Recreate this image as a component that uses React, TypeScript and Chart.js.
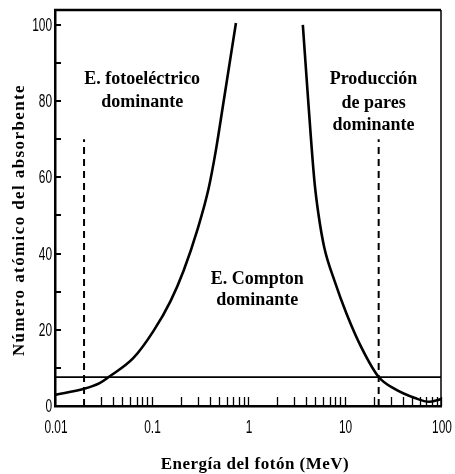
import { useEffect, useRef } from "react";
import { Chart, registerables } from "chart.js";

Chart.register(...registerables);

// Tick labels
const xTickLabels = [0.01, 0.1, 1, 10, 100];
const yTickLabels = [0, 20, 40, 60, 80, 100];
const yMinorTicks = [10, 30, 50, 70, 90];
const xMinorTicks = [
  0.03, 0.04, 0.05, 0.06, 0.07, 0.08, 0.09,
  0.2, 0.3, 0.4, 0.5, 0.6, 0.7, 0.8, 0.9,
  2, 3, 4, 5, 6, 7, 8, 9,
  20, 30, 40, 50, 60, 70, 80, 90,
];

// Photoelectric / Compton boundary (left curve)
const photoE = [0.01, 0.02, 0.029, 0.036, 0.065, 0.105, 0.158, 0.215, 0.301, 0.39, 0.464, 0.562, 0.75];
const photoZ = [2.9, 4.5, 6.0, 7.6, 12.6, 19.7, 27.6, 35.5, 46.5, 57, 67, 80.3, 100.5];

// Compton / pair production boundary (right curve)
const pairE = [3.7, 4.2, 4.87, 5.36, 6.17, 7.87, 10.5, 15.0, 22.6, 33.1, 53.7, 75, 100];
const pairZ = [100, 80.3, 59.2, 50.5, 41.6, 32.9, 24.2, 15.3, 7.6, 4.5, 2.1, 1.1, 1.8];

// Horizontal reference line and dominance boundaries
const refZ = 7.6;
const refE = [0.01, 100];
const photoBoundaryE = 0.02;
const pairBoundaryE = 22.6;
const boundaryZ = [0, 70];

const tickFont = "18px 'Liberation Sans', Arial, sans-serif";
const annFont = "bold 18px 'Liberation Serif', 'Times New Roman', serif";
const titleFont = "bold 17px 'Liberation Serif', 'Times New Roman', serif";

const overlay = {
  id: "overlay",
  afterDraw(chart: any) {
    const ctx = chart.ctx;
    const xs = chart.scales.x;
    const ys = chart.scales.y;
    const { left, right, top, bottom } = chart.chartArea;
    ctx.save();
    ctx.strokeStyle = "#000";
    ctx.fillStyle = "#000";
    // top & right border
    ctx.lineWidth = 2.5;
    ctx.beginPath();
    ctx.moveTo(left - 1, top);
    ctx.lineTo(right, top);
    ctx.stroke();
    ctx.lineWidth = 1.5;
    ctx.beginPath();
    ctx.moveTo(right, top);
    ctx.lineTo(right, bottom);
    ctx.stroke();
    // x ticks inward
    ctx.lineWidth = 1.3;
    ctx.beginPath();
    [...xMinorTicks, ...xTickLabels].forEach((v) => {
      const px = Math.round(xs.getPixelForValue(v)) + 0.5;
      ctx.moveTo(px, bottom);
      ctx.lineTo(px, bottom - 9);
    });
    ctx.stroke();
    // y ticks inward
    ctx.lineWidth = 2;
    ctx.beginPath();
    [...yMinorTicks, ...yTickLabels].forEach((v) => {
      const py = Math.round(ys.getPixelForValue(v));
      ctx.moveTo(left, py);
      ctx.lineTo(left + 6, py);
    });
    ctx.stroke();

    // condensed tick labels
    ctx.font = tickFont;
    ctx.textBaseline = "middle";
    const sx = 0.66;
    xTickLabels.forEach((v) => {
      const px = xs.getPixelForValue(v);
      ctx.save();
      ctx.translate(px + 1, bottom + 22);
      ctx.scale(sx, 1);
      ctx.textAlign = "center";
      ctx.fillText(String(v), 0, 0);
      ctx.restore();
    });
    yTickLabels.forEach((v) => {
      const py = ys.getPixelForValue(v);
      ctx.save();
      ctx.translate(left - 3, py + 1);
      ctx.scale(sx, 1);
      ctx.textAlign = "right";
      ctx.fillText(String(v), 0, 0);
      ctx.restore();
    });

    // annotations
    ctx.font = annFont;
    ctx.textAlign = "center";
    ctx.textBaseline = "middle";
    const put = (t: string, e: number, z: number) =>
      ctx.fillText(t, xs.getPixelForValue(e), ys.getPixelForValue(z));
    put("E. fotoeléctrico", 0.08, 85.6);
    put("dominante", 0.08, 79.8);
    put("Producción", 20, 85.6);
    put("de pares", 20, 79.5);
    put("dominante", 20, 73.7);
    put("E. Compton", 1.25, 33.3);
    put("dominante", 1.25, 27.6);

    // axis titles
    ctx.font = titleFont;
    (ctx as any).letterSpacing = "0.5px";
    ctx.fillText("Energía del fotón (MeV)", 255, 465);
    (ctx as any).letterSpacing = "1.4px";
    ctx.translate(20, 220);
    ctx.rotate(-Math.PI / 2);
    ctx.fillText("Número atómico del absorbente", 0, 0);
    ctx.restore();
  },
};

export default function App() {
  const ref = useRef<HTMLCanvasElement | null>(null);
  useEffect(() => {
    if (!ref.current) return;
    const line = (xsArr: number[], ysArr: number[]) =>
      xsArr.map((x, i) => ({ x, y: ysArr[i] }));
    const curve = (d: any) => ({
      data: d,
      borderColor: "#000",
      borderWidth: 2.6,
      pointRadius: 0,
      cubicInterpolationMode: "monotone",
      fill: false,
    });
    const chart = new Chart(ref.current, {
      type: "line",
      data: {
        datasets: [
          curve(line(photoE, photoZ)),
          curve(line(pairE, pairZ)),
          {
            data: line(refE, [refZ, refZ]),
            borderColor: "#000",
            borderWidth: 1.8,
            pointRadius: 0,
          },
          {
            data: line([photoBoundaryE, photoBoundaryE], boundaryZ),
            borderColor: "#000",
            borderWidth: 2,
            borderDash: [7, 5],
            pointRadius: 0,
          },
          {
            data: line([pairBoundaryE, pairBoundaryE], boundaryZ),
            borderColor: "#000",
            borderWidth: 2,
            borderDash: [7, 5],
            pointRadius: 0,
          },
        ],
      },
      options: {
        responsive: false,
        animation: false,
        layout: { padding: { left: 0, right: 14, top: 10, bottom: 0 } },
        plugins: { legend: { display: false }, tooltip: { enabled: false } },
        scales: {
          x: {
            type: "logarithmic",
            min: 0.01,
            max: 100,
            afterBuildTicks: (s: any) => {
              s.ticks = xTickLabels.map((v) => ({ value: v }));
            },
            afterFit: (s: any) => {
              s.height = 68;
            },
            ticks: { display: false },
            grid: { display: false, drawTicks: false },
            border: { display: true, color: "#000", width: 2.5 },
          },
          y: {
            type: "linear",
            min: 0,
            max: 103.9,
            afterBuildTicks: (s: any) => {
              s.ticks = yTickLabels.map((v) => ({ value: v }));
            },
            afterFit: (s: any) => {
              s.width = 55;
            },
            ticks: { display: false },
            grid: { display: false, drawTicks: false },
            border: { display: true, color: "#000", width: 2.5 },
          },
        },
      },
      plugins: [overlay],
    } as any);
    return () => chart.destroy();
  }, []);
  return (
    <div style={{ position: "fixed", left: 0, top: 0, width: 455, height: 474, background: "#fff" }}>
      <canvas ref={ref} width={455} height={474} style={{ width: 455, height: 474 }} />
    </div>
  );
}
